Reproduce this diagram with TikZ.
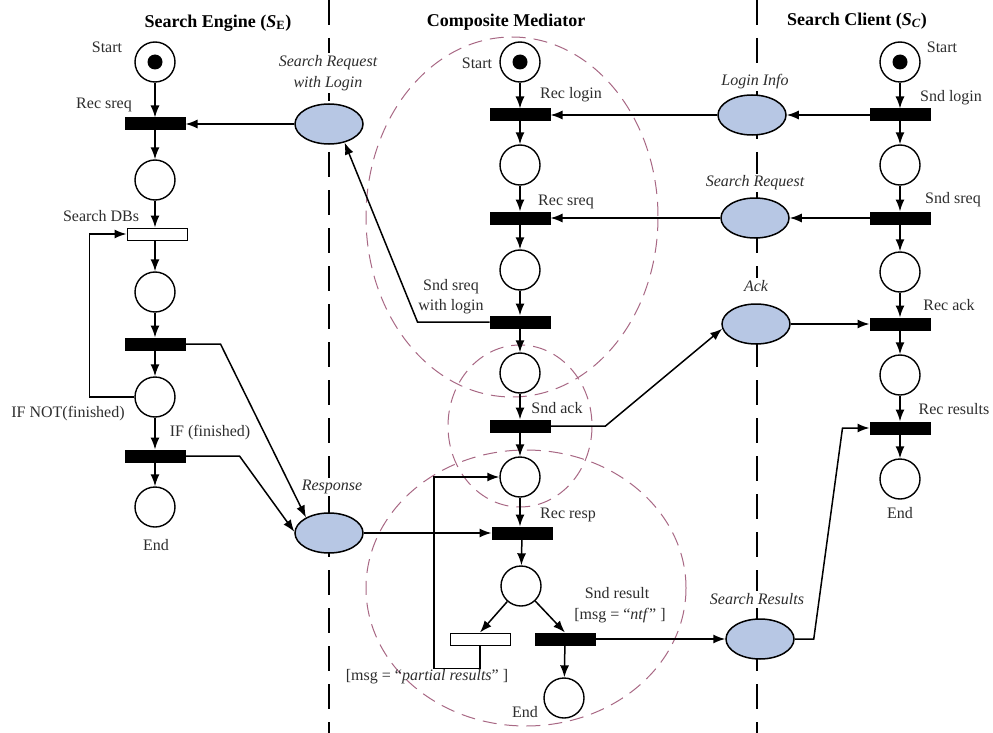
\documentclass[tikz,border=0pt]{standalone}
\usepackage{fontspec}
\setmainfont{Liberation Serif}
\usetikzlibrary{shapes.geometric,arrows.meta}
\definecolor{msgblue}{RGB}{183,199,228}
\definecolor{zonecol}{RGB}{168,104,132}
\definecolor{txt}{RGB}{45,45,45}
\begin{document}
\begin{tikzpicture}[x=1pt,y=-1pt,
  place/.style={circle, draw, line width=1.4pt, minimum size=40pt, inner sep=0pt, fill=white},
  token/.style={circle, fill=black, minimum size=15pt, inner sep=0pt},
  bar/.style={rectangle, draw, fill=black, minimum width=60pt, minimum height=12pt, inner sep=0pt, line width=1pt},
  wbar/.style={bar, fill=white},
  msg/.style={ellipse, draw, fill=msgblue, minimum width=68pt, minimum height=40pt, line width=1.5pt, inner sep=0pt},
  arc/.style={line width=1.5pt, -{Latex[length=12pt,width=9pt]}},
  lbl/.style={font=\fontsize{16}{20}\selectfont, text=txt, inner sep=1pt, align=center},
  ilbl/.style={font=\fontsize{16}{21}\selectfont\itshape, text=txt, fill=white, inner sep=2pt, align=center},
  ttl/.style={font=\fontsize{18}{20}\selectfont\bfseries, text=black},
  zone/.style={draw=zonecol, line width=1pt, dash pattern=on 14pt off 8pt},
  lane/.style={line width=1.6pt, dash pattern=on 25pt off 13pt}]
\useasboundingbox (0,0) rectangle (993,733);
% swimlane separators
\draw[lane] (329,0) -- (329,733);
\draw[lane] (757,0) -- (757,733);
% zones
\draw[zone] (512,217) ellipse [x radius=146, y radius=180];
\draw[zone] (520,426) ellipse [x radius=72, y radius=81];
\draw[zone] (526,588) ellipse [x radius=160, y radius=138];
% titles
\node[ttl] (tE) at (218,23) {Search Engine (\textit{S}\textsubscript{E})};
\node[ttl] (tM) at (506,22) {Composite Mediator};
\node[ttl] (tC) at (857,21) {Search Client (\textit{S}\textsubscript{\textit{C}})};
% ---------- Search Engine ----------
\node[place] (S0) at (155,62) {};
\node[token] (S0t) at (S0) {};
\node[bar] (T1) at (155,124) {};
\node[place] (P1) at (155,180) {};
\node[wbar] (T2) at (157,234) {};
\node[place] (P2) at (155,292) {};
\node[bar] (T3) at (155,344) {};
\node[place] (P3) at (155,397) {};
\node[bar] (T4) at (155,456) {};
\node[place] (P4) at (155,507) {};
\node[lbl] (lS0) at (107,47) {Start};
\node[lbl] (lT1) at (104,105) {Rec sreq};
\node[lbl] (lT2) at (101,216) {Search DBs};
\node[lbl] (lP3) at (68,414) {IF NOT(finished)};
\node[lbl] (lT4) at (210,433) {IF (finished)};
\node[lbl] (lP4) at (156,545) {End};
% ---------- messages ----------
\node[msg] (SRL) at (329,124) {};
\node[ilbl] (lSRL) at (328,73) {Search Request\\with Login};
\node[msg] (Resp) at (329,533) {};
\node[ilbl] (lResp) at (332,487) {Response};
\node[msg] (LI) at (752,115) {};
\node[ilbl] (lLI) at (755,82) {Login Info};
\node[msg] (SR) at (755,218) {};
\node[ilbl] (lSR) at (755,183) {Search Request};
\node[msg] (Ack) at (756,324) {};
\node[ilbl] (lAck) at (756,286) {Ack};
\node[msg] (SRes) at (760,639) {};
\node[ilbl] (lSRes) at (757,599) {Search Results};
% ---------- Composite Mediator ----------
\node[place] (M0) at (520,62) {};
\node[token] (M0t) at (M0) {};
\node[bar] (MT1) at (520,115) {};
\node[place] (MP1) at (520,165) {};
\node[bar] (MT2) at (520,218) {};
\node[place] (MP2) at (520,270) {};
\node[bar] (MT3) at (520,322) {};
\node[place] (MP3) at (520,373) {};
\node[bar] (MT4) at (520,426) {};
\node[place] (MP4) at (520,477) {};
\node[bar] (MT5) at (522,533) {};
\node[place] (MP5) at (521,586) {};
\node[wbar] (MW) at (480,639) {};
\node[bar] (MT6) at (565,639) {};
\node[place] (ME) at (564,698) {};
\node[lbl] (lM0) at (477,63) {Start};
\node[lbl] (lMT1) at (571,95) {Rec login};
\node[lbl] (lMT2) at (566,202) {Rec sreq};
\node[lbl] (lMT3) at (451,297) {Snd sreq\\with login};
\node[lbl] (lMT4) at (557,408) {Snd ack};
\node[lbl] (lMT5) at (568,515) {Rec resp};
\node[lbl] (lMT6a) at (617,593) {Snd result};
\node[lbl] (lMT6b) at (620,616) {[msg = “\textit{ntf}”\ ]};
\node[lbl] (lMW) at (427,677) {[msg = “\textit{partial results}”\ ]};
\node[lbl] (lME) at (525,712) {End};
% ---------- Search Client ----------
\node[place] (C0) at (900,62) {};
\node[token] (C0t) at (C0) {};
\node[bar] (CT1) at (900,115) {};
\node[place] (CP1) at (900,165) {};
\node[bar] (CT2) at (900,218) {};
\node[place] (CP2) at (900,272) {};
\node[bar] (CT3) at (900,324) {};
\node[place] (CP3) at (900,375) {};
\node[bar] (CT4) at (900,428) {};
\node[place] (CE) at (900,479) {};
\node[lbl] (lC0) at (942,47) {Start};
\node[lbl] (lCT1) at (951,98) {Snd login};
\node[lbl] (lCT2) at (953,200) {Snd sreq};
\node[lbl] (lCT3) at (949,305) {Rec ack};
\node[lbl] (lCT4) at (954,409) {Rec results};
\node[lbl] (lCE) at (900,513) {End};
% ---------- connectors: Search Engine ----------
\draw[arc] (S0) -- (T1);
\draw[arc] (T1) -- (P1);
\draw[arc] (P1) -- (P1 |- T2.north);
\draw[arc] (P2 |- T2.south) -- (P2);
\draw[arc] (P2) -- (T3);
\draw[arc] (T3) -- (P3);
\draw[arc] (P3) -- (T4);
\draw[arc] (T4) -- (P4);
\draw[arc] (P3.west) -- ++(-45,0) |- (T2.west);
\draw[arc] (T3.east) -- ++(35,0) -- (Resp.146);
\draw[arc] (T4.east) -- ++(54,0) -- (Resp.178);
\draw[arc] (SRL) -- (T1);
\draw[arc] (Resp) -- (MT5);
% ---------- connectors: Mediator ----------
\draw[arc] (M0) -- (MT1);
\draw[arc] (MT1) -- (MP1);
\draw[arc] (MP1) -- (MT2);
\draw[arc] (MT2) -- (MP2);
\draw[arc] (MP2) -- (MT3);
\draw[arc] (MT3) -- (MP3);
\draw[arc] (MP3) -- (MT4);
\draw[arc] (MT4) -- (MP4);
\draw[arc] (MP4) -- (MP4 |- MT5.north);
\draw[arc] (MT5) -- (MP5);
\draw[arc] (MP5) -- (MW.north);
\draw[arc] (MP5) -- (MT6.north);
\draw[arc] (MT6) -- (ME);
\draw[arc] (MW.south) |- ++(-46,23) |- (MP4.west);
\draw[arc] (MT3.west) -- ++(-72,0) -- (SRL.-50);
\draw[arc] (MT4.east) -- ++(55,0) -- (Ack.188);
\draw[arc] (LI) -- (MT1);
\draw[arc] (SR) -- (MT2);
\draw[arc] (MT6) -- (SRes);
% ---------- connectors: Client ----------
\draw[arc] (C0) -- (CT1);
\draw[arc] (CT1) -- (CP1);
\draw[arc] (CP1) -- (CT2);
\draw[arc] (CT2) -- (CP2);
\draw[arc] (CP2) -- (CT3);
\draw[arc] (CT3) -- (CP3);
\draw[arc] (CP3) -- (CT4);
\draw[arc] (CT4) -- (CE);
\draw[arc] (CT1) -- (LI);
\draw[arc] (CT2) -- (SR);
\draw[arc] (Ack) -- (CT3);
\draw[arc] (SRes.east) -- ++(19,0) -- ([xshift=-27pt]CT4.west) -- (CT4.west);
\end{tikzpicture}
\end{document}
